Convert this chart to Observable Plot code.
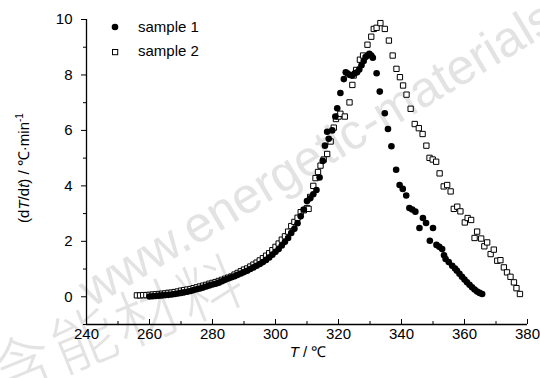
<!DOCTYPE html>
<html>
<head>
<meta charset="utf-8">
<script src="https://cdn.jsdelivr.net/npm/d3@7"></script>
<script src="https://cdn.jsdelivr.net/npm/@observablehq/plot@0.6"></script>
<style>
  html, body { margin: 0; padding: 0; background: #fff; }
  #chart { width: 540px; height: 378px; overflow: hidden; }
</style>
</head>
<body>
<div id="chart"></div>
<script>
// Sample 1 (filled circles): temperature T (°C) and dT/dt (°C·min^-1)
const sample1T = [260,261,262,263,264,265,266,267,268,269,270,271,272,273,274,275,276,277,278,279,280,281,282,283,284,285,286,287,288,289,290,291,292,293,294,295,296,297,298,299,300,301,302,303,304,305,306,307,308,309,310,311,312,313,314,315,315.7,316.4,316.9,318,319,319.6,320.6,321.7,322.3,322.9,323.6,324.3,325.1,325.9,326.6,327.3,328,328.6,329.2,329.8,330.4,330.9,332.1,333.1,334.7,335.7,336.8,338.3,339.4,340.4,341.5,342.5,343.4,344.4,345.7,346.8,347.8,349,350,351.1,352,352.9,353.5,354,355,356.1,357,357.6,358.4,359.2,360,360.8,361.6,362.4,363.2,364,364.8,365.6];
const sample1V = [0.01,0.02,0.03,0.04,0.05,0.06,0.07,0.08,0.10,0.12,0.14,0.16,0.18,0.21,0.24,0.27,0.30,0.33,0.37,0.41,0.44,0.47,0.51,0.56,0.61,0.66,0.70,0.74,0.79,0.84,0.89,0.94,1.00,1.06,1.12,1.18,1.25,1.33,1.42,1.52,1.62,1.72,1.85,1.98,2.12,2.30,2.45,2.65,2.90,3.15,3.45,3.55,3.70,3.85,4.30,4.90,5.45,5.95,5.70,6.00,6.50,6.80,7.35,7.85,8.10,8.05,8.00,7.98,8.05,8.10,8.20,8.35,8.50,8.65,8.70,8.76,8.70,8.62,8.06,7.40,6.62,6.05,5.43,4.58,4.03,3.89,3.65,3.20,3.15,3.07,2.48,2.84,2.66,2.02,2.48,1.87,1.80,1.72,1.50,1.36,1.25,1.12,1.02,0.94,0.83,0.72,0.62,0.52,0.43,0.34,0.26,0.19,0.14,0.10];

// Sample 2 (open squares)
const sample2T = [256,257,258,259,260,261,262,263,264,265,266,267,268,269,270,271,272,273,274,275,276,277,278,279,280,281,282,283,284,285,286,287,288,289,290,291,292,293,294,295,296,297,298,299,300,301,302,303,304,305,306,307,308,309,310,310.5,311,312,312.7,313.5,314.3,315.3,316.4,317.5,318.5,319.2,320,320.6,322,323.5,324.4,324.8,325.6,326.8,327.8,329.2,330.4,331.2,332.1,333.3,334.7,336,337.2,338.4,339.5,340.5,341.6,342.9,344.2,345.5,346.7,347.9,348.9,349.9,351,352.1,353.4,354.5,355.6,356.6,357.7,358.7,360.1,361,362.1,363.2,364,365.3,366.3,367.2,368.3,369.3,370.4,371.4,372.5,373.5,374.6,375.7,376.5,377.6];
const sample2V = [0.05,0.05,0.06,0.06,0.07,0.08,0.09,0.10,0.11,0.12,0.14,0.15,0.17,0.19,0.22,0.24,0.26,0.28,0.31,0.34,0.37,0.40,0.43,0.47,0.50,0.53,0.57,0.61,0.65,0.69,0.73,0.80,0.86,0.92,0.98,1.02,1.09,1.16,1.23,1.31,1.39,1.48,1.57,1.68,1.80,1.92,2.06,2.18,2.35,2.55,2.70,2.85,3.05,3.12,3.20,3.17,3.60,4.00,4.28,4.50,4.73,4.95,5.15,5.60,6.10,6.41,6.50,6.60,6.50,7.01,7.64,7.98,8.18,8.55,8.70,9.09,9.38,9.66,9.70,9.87,9.66,9.24,8.70,8.22,7.92,7.62,7.29,6.78,6.23,6.08,5.87,5.45,5.01,4.95,4.87,4.45,3.98,4.03,3.80,3.17,3.25,3.08,2.68,2.84,2.77,2.12,2.35,2.10,1.82,1.96,1.54,1.70,1.30,1.32,1.06,0.88,0.72,0.52,0.31,0.10];

const seriesNames = ["sample 1", "sample 2"];
const xMajorTicks = [240,260,280,300,320,340,360,380];
const xMinorTicks = [250,270,290,310,330,350,370];
const yMajorTicks = [0,2,4,6,8,10];
const yMinorTicks = [-1,1,3,5,7,9];
const xDomain = [240, 380];
const yDomain = [-1, 10];

const s1 = sample1T.map((t, i) => ({T: t, v: sample1V[i]}));
const s2 = sample2T.map((t, i) => ({T: t, v: sample2V[i]}));

const FONT = "'Liberation Sans', Arial, Helvetica, sans-serif";

const plot = Plot.plot({
  width: 540,
  height: 378,
  marginLeft: 86,
  marginRight: 13,
  marginTop: 19,
  marginBottom: 54,
  style: {fontFamily: FONT, fontSize: "15px", color: "#000", background: "transparent"},
  x: {domain: xDomain, label: null},
  y: {domain: yDomain, label: null},
  marks: [
    Plot.axisX({ticks: xMajorTicks, tickSize: -5, tickPadding: 9, tickFormat: d => String(d), label: null}),
    Plot.axisX({ticks: xMinorTicks, tickSize: -3, tickFormat: () => "", label: null}),
    Plot.axisY({ticks: yMajorTicks, tickSize: 5, tickPadding: 9, tickFormat: d => String(d), label: null}),
    Plot.axisY({ticks: yMinorTicks, tickSize: 3, tickFormat: () => "", label: null}),
    Plot.ruleY([yDomain[0]], {stroke: "#000", strokeWidth: 1.3}),
    Plot.ruleX([xDomain[0]], {stroke: "#000", strokeWidth: 1.3}),
    Plot.dot(s2, {x: "T", y: "v", symbol: "square", r: 3.0, fill: "#fff", stroke: "#000", strokeWidth: 1}),
    Plot.dot(s1, {x: "T", y: "v", symbol: "circle", r: 3.3, fill: "#000", stroke: "none"})
  ]
});

document.getElementById("chart").appendChild(plot);

const svg = d3.select(plot);

// watermark behind everything
const wm = svg.insert("g", ":first-child").attr("fill", "#e3e3e3").attr("font-family", FONT).attr("text-anchor", "start");
wm.append("text").attr("transform", "translate(92,308) rotate(-31)")
  .attr("font-size", 50).text("www.energetic-materials.org.cn");
wm.append("text").attr("transform", "translate(0,399) rotate(-22)")
  .attr("font-family", "'Noto Sans CJK SC', sans-serif")
  .attr("font-weight", 300).attr("letter-spacing", 4)
  .attr("font-size", 64).text("含能材料");

// axis titles
const xt = svg.append("text").attr("x", 308).attr("y", 357).attr("text-anchor", "middle")
  .attr("font-family", FONT).attr("font-size", 15).attr("fill", "#000");
xt.append("tspan").attr("font-style", "italic").text("T");
xt.append("tspan").text(" / ℃");

const yt = svg.append("text").attr("transform", "translate(29,168) rotate(-90)").attr("text-anchor", "middle")
  .attr("font-family", FONT).attr("font-size", 15).attr("fill", "#000");
yt.append("tspan").text("(d");
yt.append("tspan").attr("font-style", "italic").text("T");
yt.append("tspan").text("/d");
yt.append("tspan").attr("font-style", "italic").text("t");
yt.append("tspan").text(") / ℃·min");
yt.append("tspan").attr("font-size", 10).attr("dy", -6).text("-1");

// legend
const lg = svg.append("g").attr("font-family", FONT).attr("font-size", 15).attr("fill", "#000").attr("text-anchor", "start");
lg.append("circle").attr("cx", 115).attr("cy", 27).attr("r", 3.3).attr("fill", "#000");
lg.append("text").attr("x", 138).attr("y", 31.5).text(seriesNames[0]);
lg.append("rect").attr("x", 112.5).attr("y", 49.5).attr("width", 5.2).attr("height", 5.2)
  .attr("fill", "#fff").attr("stroke", "#000").attr("stroke-width", 1);
lg.append("text").attr("x", 138).attr("y", 56).text(seriesNames[1]);
</script>
</body>
</html>
